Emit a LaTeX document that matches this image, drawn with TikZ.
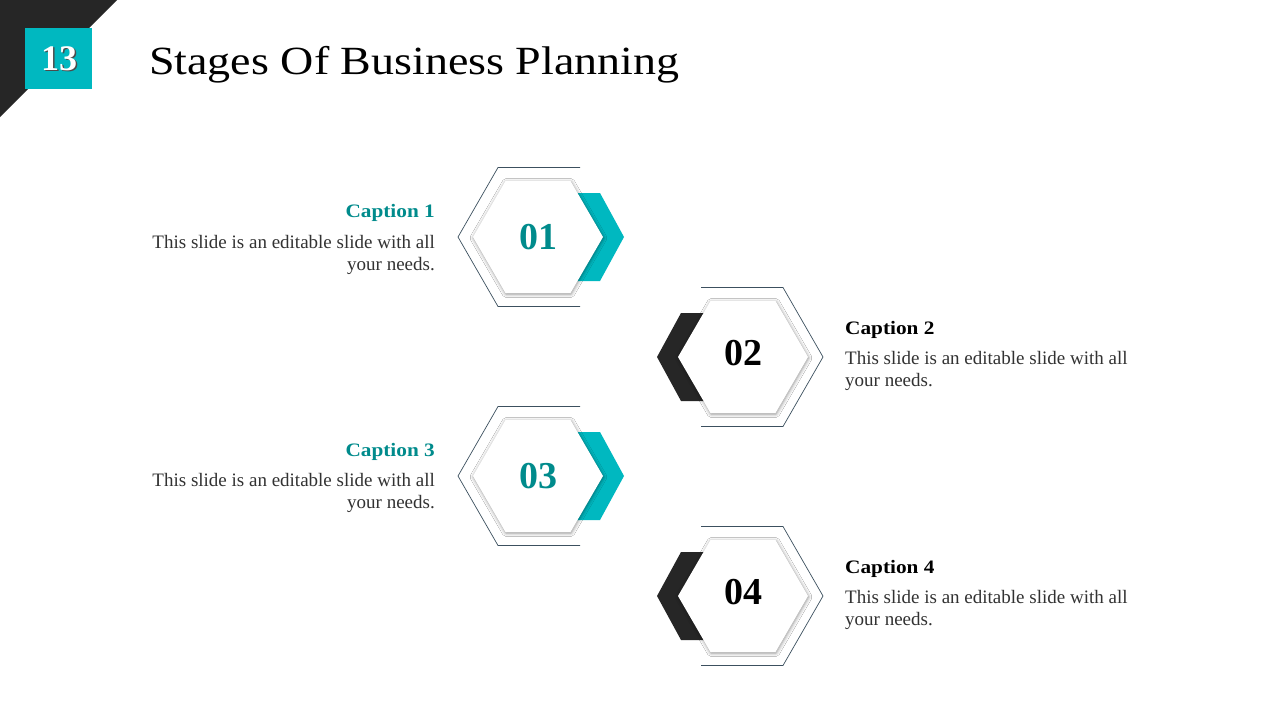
\documentclass[tikz,border=0pt]{standalone}
\usepackage{fontspec}
\setmainfont{Liberation Serif}
\newfontfamily\wideserif[FakeStretch=1.15]{Liberation Serif}
\newfontfamily\capserif[FakeStretch=1.12]{Liberation Serif}
\usetikzlibrary{shadows.blur}
\definecolor{tealA}{RGB}{0,184,192}
\definecolor{tealT}{RGB}{0,139,140}
\definecolor{darkA}{RGB}{38,38,38}
\definecolor{lineC}{RGB}{60,80,95}
\definecolor{bodyC}{RGB}{50,50,50}
\tikzset{
  hexbox/.style={fill=white,
     blur shadow={shadow xshift=0.5pt, shadow yshift=-1pt, shadow blur radius=3.5pt, shadow blur extra rounding=0pt, shadow opacity=45}},
  outline/.style={draw=lineC, line width=0.7pt},
  numtxt/.style={font=\fontsize{38}{40}\selectfont\bfseries, inner sep=0pt},
  captxt/.style={font=\capserif\fontsize{19}{21}\selectfont\bfseries, inner sep=0pt},
  bodytxt/.style={font=\fontsize{19}{22.5}\selectfont, text=bodyC, inner sep=0pt, align=#1},
}
\begin{document}
\begin{tikzpicture}[x=1pt,y=-1pt]
\useasboundingbox (0,0) rectangle (1280,720);
\fill[white] (0,0) rectangle (1280,720);
% corner
\fill[darkA] (0,0) -- (117,0) -- (0,117) -- cycle;
\fill[tealA] (25,28) rectangle (92,89);
\node[numtxt, text=black!70, font=\fontsize{36}{38}\selectfont\bfseries] at (60.5,60) {13};
\node[numtxt, text=white, font=\fontsize{36}{38}\selectfont\bfseries] (pg) at (59,58.5) {13};
% title
\node[anchor=base west, inner sep=0pt, font=\wideserif\fontsize{40}{42}\selectfont] (title) at (149,74) {Stages Of Business Planning};

\foreach \cx/\cy/\n/\side in {538/237/1/1, 743/357/2/-1, 538/476/3/1, 743/596/4/-1}{
  \ifnum\side=1
    \fill[tealA] (\cx+34,\cy-44) -- (\cx+62,\cy-44) -- (\cx+86,\cy) -- (\cx+62,\cy+44) -- (\cx+34,\cy+44) -- cycle;
    \draw[outline] (\cx+42,\cy-69.5) -- (\cx-40,\cy-69.5) -- (\cx-80,\cy) -- (\cx-40,\cy+69.5) -- (\cx+42,\cy+69.5);
  \else
    \fill[darkA] (\cx-34,\cy-44) -- (\cx-62,\cy-44) -- (\cx-86,\cy) -- (\cx-62,\cy+44) -- (\cx-34,\cy+44) -- cycle;
    \draw[outline] (\cx-42,\cy-69.5) -- (\cx+40,\cy-69.5) -- (\cx+80,\cy) -- (\cx+40,\cy+69.5) -- (\cx-42,\cy+69.5);
  \fi
  \path[hexbox] (\cx-65,\cy) -- (\cx-32.5,\cy-56) -- (\cx+32.5,\cy-56) -- (\cx+65,\cy) -- (\cx+32.5,\cy+56) -- (\cx-32.5,\cy+56) -- cycle;
}
\node[numtxt, text=tealT] (n1) at (538,237) {01};
\node[numtxt, text=black] (n2) at (743,353) {02};
\node[numtxt, text=tealT] (n3) at (538,476) {03};
\node[numtxt, text=black] (n4) at (743,592) {04};

% captions
\node[captxt, text=tealT, anchor=base east] (c1) at (435,217) {Caption 1};
\node[bodytxt=right, anchor=north east] (b1) at (435,235) {This slide is an editable slide with all\\your needs.};
\node[captxt, text=black, anchor=base west] (c2) at (845,334) {Caption 2};
\node[bodytxt=left, anchor=north west] (b2) at (845,351) {This slide is an editable slide with all\\your needs.};
\node[captxt, text=tealT, anchor=base east] (c3) at (435,456) {Caption 3};
\node[bodytxt=right, anchor=north east] (b3) at (435,473) {This slide is an editable slide with all\\your needs.};
\node[captxt, text=black, anchor=base west] (c4) at (845,573) {Caption 4};
\node[bodytxt=left, anchor=north west] (b4) at (845,590) {This slide is an editable slide with all\\your needs.};
\end{tikzpicture}
\end{document}
